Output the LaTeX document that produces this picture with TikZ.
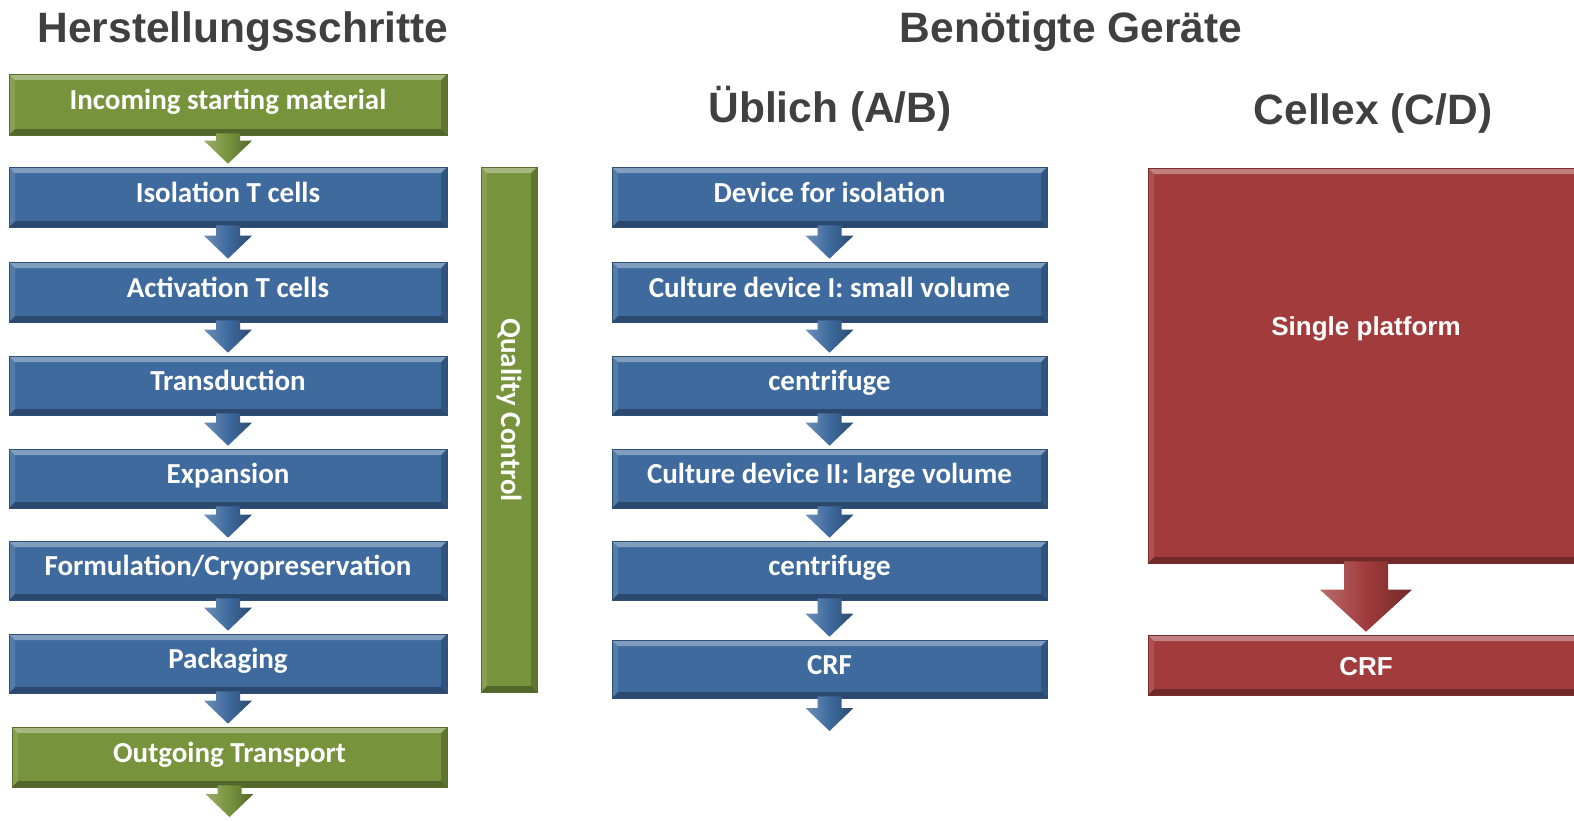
\documentclass[tikz,border=0pt]{standalone}
\usepackage{fontspec}
\newfontfamily\calibri{Carlito}
\newfontfamily\arial{Liberation Sans}
\usetikzlibrary{calc}
\definecolor{boxblue}{RGB}{62,106,158}
\definecolor{boxgreen}{RGB}{119,147,60}
\definecolor{boxred}{RGB}{161,59,60}
\definecolor{headgray}{RGB}{64,64,64}
\newcommand{\blockarrow}[6]{%
  \shade[left color=#3!75!white, right color=#3!70!black, middle color=#3]
    let \p1=(#1), \p2=(#2) in
    (\x1-#4,\y1+2pt) -- (\x1-#4,\y2+3pt+#6) -- (\x1-#5,\y2+3pt+#6) -- (\x1,\y2+3pt)
    -- (\x1+#5,\y2+3pt+#6) -- (\x1+#4,\y2+3pt+#6) -- (\x1+#4,\y1+2pt) -- cycle;}
\tikzset{
  bevel/.style={path picture={
    \fill[white,opacity=.35] (path picture bounding box.north west) -- (path picture bounding box.north east)
      -- ([xshift=-6pt,yshift=-6pt]path picture bounding box.north east) -- ([xshift=6pt,yshift=-6pt]path picture bounding box.north west) -- cycle;
    \fill[black,opacity=.3] (path picture bounding box.south west) -- (path picture bounding box.south east)
      -- ([xshift=-6pt,yshift=6pt]path picture bounding box.south east) -- ([xshift=6pt,yshift=6pt]path picture bounding box.south west) -- cycle;
    \fill[white,opacity=.12] (path picture bounding box.north west) -- (path picture bounding box.south west)
      -- ([xshift=6pt,yshift=6pt]path picture bounding box.south west) -- ([xshift=6pt,yshift=-6pt]path picture bounding box.north west) -- cycle;
    \fill[black,opacity=.2] (path picture bounding box.north east) -- (path picture bounding box.south east)
      -- ([xshift=-6pt,yshift=6pt]path picture bounding box.south east) -- ([xshift=-6pt,yshift=-6pt]path picture bounding box.north east) -- cycle;
  }},
  bevelbox/.style={bevel, inner sep=0pt, minimum height=60pt, text=white,
    font=\calibri\bfseries\fontsize{29}{34}\selectfont, text height=10pt, text depth=0pt, line width=.6pt},
  stepblue/.style={bevelbox, fill=boxblue, draw=boxblue!75!black},
  stepgreen/.style={bevelbox, fill=boxgreen, draw=boxgreen!75!black},
  stepred/.style={bevelbox, fill=boxred, draw=boxred!75!black,
    font=\arial\bfseries\fontsize{26}{30}\selectfont, text height=20pt},
  heading/.style={font=\arial\bfseries\fontsize{42.5}{50}\selectfont, text=headgray, anchor=base, inner sep=0pt},
}
\begin{document}
\begin{tikzpicture}[x=1pt,y=-1pt]
\useasboundingbox (0,0) rectangle (1574,820);
\clip (0,0) rectangle (1574,820);
% headings
\node[heading] (h1) at (243,42) {Herstellungsschritte};
\node[heading] (h2) at (1071,42) {Benötigte Geräte};
\node[heading] (h3) at (830,122) {Üblich (A/B)};
\node[heading] (h4) at (1373,124) {Cellex (C/D)};
% left column
\node[stepgreen, minimum width=438pt, minimum height=61pt] (inc) at (228,104.5) {Incoming starting material};
\node[stepblue, minimum width=438pt] (iso) at (228,197) {Isolation T cells};
\node[stepblue, minimum width=438pt] (act) at (228,292) {Activation T cells};
\node[stepblue, minimum width=438pt, minimum height=59pt] (tra) at (228,385.5) {Transduction};
\node[stepblue, minimum width=438pt, minimum height=59pt] (exp) at (228,478.5) {Expansion};
\node[stepblue, minimum width=438pt, minimum height=59pt] (for) at (228,570.5) {Formulation/Cryopreservation};
\node[stepblue, minimum width=438pt, minimum height=59pt] (pac) at (228,663.5) {Packaging};
\node[stepgreen, minimum width=435pt] (out) at (229.5,757) {Outgoing Transport};
\coordinate (outend) at (229.5,820);
\blockarrow{inc.south}{iso.north}{boxgreen}{12pt}{24pt}{23pt}
\blockarrow{iso.south}{act.north}{boxblue}{12pt}{24pt}{23pt}
\blockarrow{act.south}{tra.north}{boxblue}{12pt}{24pt}{23pt}
\blockarrow{tra.south}{exp.north}{boxblue}{12pt}{24pt}{23pt}
\blockarrow{exp.south}{for.north}{boxblue}{12pt}{24pt}{23pt}
\blockarrow{for.south}{pac.north}{boxblue}{12pt}{24pt}{23pt}
\blockarrow{pac.south}{out.north}{boxblue}{12pt}{24pt}{23pt}
\blockarrow{out.south}{outend}{boxgreen}{12pt}{24pt}{23pt}
% quality control
\node[stepgreen, minimum width=56pt, minimum height=525pt] (qc) at (509,429.5) {};
\node[rotate=-90, inner sep=0pt, text=white, font=\calibri\bfseries\fontsize{29}{34}\selectfont] (qct) at ([yshift=19.5pt]qc.center) {Quality Control};
% middle column
\node[stepblue, minimum width=435pt] (dev) at (829.5,197) {Device for isolation};
\node[stepblue, minimum width=435pt] (cu1) at (829.5,292) {Culture device I: small volume};
\node[stepblue, minimum width=435pt, minimum height=59pt] (ce1) at (829.5,385.5) {centrifuge};
\node[stepblue, minimum width=435pt, minimum height=59pt] (cu2) at (829.5,478.5) {Culture device II: large volume};
\node[stepblue, minimum width=435pt, minimum height=59pt] (ce2) at (829.5,570.5) {centrifuge};
\node[stepblue, minimum width=435pt, minimum height=58pt] (crf1) at (829.5,669) {CRF};
\coordinate (crfend) at (829.5,734);
\blockarrow{dev.south}{cu1.north}{boxblue}{12pt}{24pt}{23pt}
\blockarrow{cu1.south}{ce1.north}{boxblue}{12pt}{24pt}{23pt}
\blockarrow{ce1.south}{cu2.north}{boxblue}{12pt}{24pt}{23pt}
\blockarrow{cu2.south}{ce2.north}{boxblue}{12pt}{24pt}{23pt}
\blockarrow{ce2.south}{crf1.north}{boxblue}{12pt}{24pt}{23pt}
\blockarrow{crf1.south}{crfend}{boxblue}{12pt}{24pt}{23pt}
% right column
\node[stepred, minimum width=436pt, minimum height=395pt,
  label={[text=white, font=\arial\bfseries\fontsize{26}{30}\selectfont, yshift=37pt]center:Single platform}] (single) at (1366,365.5) {};
\node[stepred, minimum width=436pt] (crf2) at (1366,665) {CRF};
\blockarrow{single.south}{crf2.north}{boxred}{22pt}{46pt}{42pt}
\end{tikzpicture}
\end{document}
